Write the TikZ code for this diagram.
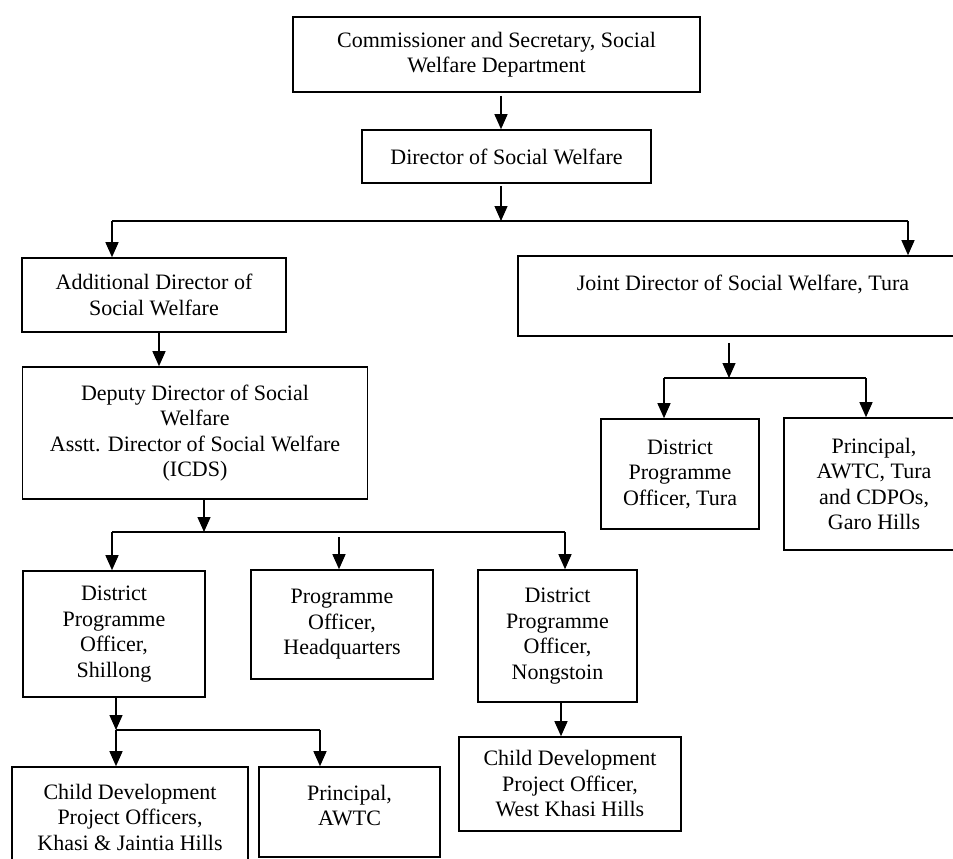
\documentclass[tikz,border=0pt]{standalone}
\usepackage{fontspec}
\setmainfont{Liberation Serif}
\usetikzlibrary{arrows.meta}

\begin{document}
\begin{tikzpicture}[x=1pt, y=-1pt,
	box/.style={draw=black, line width=1.6pt, fill=white, align=center, inner sep=0pt, font=\fontsize{22}{25.5}\selectfont},
	arr/.style={line width=1.3pt, -{Triangle[length=15pt, width=13pt]}},
	bus/.style={line width=1.6pt}]
	\clip (0, 0) rectangle (953, 859);

	\node [box, minimum width=407, minimum height=75] (comm) at (496.5, 54.5) {Commissioner and Secretary, Social\\Welfare Department};
	\node [box, minimum width=289, minimum height=53] (dir) at (506.5, 156.5) {Director of Social Welfare};

	\node [box, minimum width=264, minimum height=74] (add) at (154, 295) {Additional Director of\\Social Welfare};
	\node [box, minimum width=450, minimum height=80] (joint) at (743, 296) {Joint Director of Social Welfare, Tura\\~};

	\node [box, minimum width=345, minimum height=132] (dep) at (195, 433) {Deputy Director of Social\\Welfare\\Asstt. Director of Social Welfare\\(ICDS)};

	\node [box, minimum width=158, minimum height=110] (dpoT) at (680, 474) {District\\Programme\\Officer, Tura};
	\node [box, minimum width=180, minimum height=132] (prinT) at (874, 484) {Principal,\\AWTC, Tura\\and CDPOs,\\Garo Hills};

	\node [box, minimum width=182, minimum height=126] (dpoS) at (114, 634) {District\\Programme\\Officer,\\Shillong};
	\node [box, minimum width=182, minimum height=109] (poHQ) at (342, 624.5) {Programme\\Officer,\\Headquarters};
	\node [box, minimum width=159, minimum height=132] (dpoN) at (557.5, 636) {District\\Programme\\Officer,\\Nongstoin};

	\node [box, minimum width=236, minimum height=100] (cdpoKJ) at (130, 817) {Child Development\\Project Officers,\\Khasi \& Jaintia Hills};
	\node [box, minimum width=181, minimum height=90] (prinA) at (349.5, 812) {Principal,\\AWTC\\[-12pt]~};
	\node [box, minimum width=222, minimum height=94] (cdpoW) at (570, 784) {Child Development\\Project Officer,\\West Khasi Hills};

	\coordinate (c1) at (501, 0);
	\coordinate (b1) at (501, 221);
	\coordinate (b1l) at (112, 221);
	\coordinate (b1r) at (908, 221);
	\coordinate (c2) at (159, 0);
	\coordinate (b2) at (204, 532);
	\coordinate (b2l) at (112, 532);
	\coordinate (b2m) at (339, 537);
	\coordinate (b2r) at (565, 532);
	\coordinate (b3) at (729, 378);
	\coordinate (b3l) at (664, 378);
	\coordinate (b3r) at (866, 378);
	\coordinate (b4) at (116, 730);
	\coordinate (b4r) at (320, 730);
	\coordinate (c5) at (561, 0);

	\draw [arr, shorten <=3pt] (comm.south -| c1) to (dir.north -| c1);
	\draw [arr, shorten <=2pt] (dir.south -| b1) to (b1);
	\draw [bus] (b1l) to (b1r);
	\draw [arr] (b1l) to (add.north -| b1l);
	\draw [arr] (b1r) to (joint.north -| b1r);

	\draw [arr] (add.south -| c2) to (dep.north -| c2);
	\draw [arr] (dep.south -| b2) to (b2);
	\draw [bus] (b2l) to (b2r);
	\draw [arr] (b2l) to (dpoS.north -| b2l);
	\draw [arr] (b2m) to (poHQ.north -| b2m);
	\draw [arr] (b2r) to (dpoN.north -| b2r);

	\draw [arr, shorten <=6pt] (joint.south -| b3) to (b3);
	\draw [bus] (b3l) to (b3r);
	\draw [arr] (b3l) to (dpoT.north -| b3l);
	\draw [arr] (b3r) to (prinT.north -| b3r);

	\draw [arr] (dpoS.south -| b4) to (b4);
	\draw [bus] (b4) to (b4r);
	\draw [arr] (b4) to (cdpoKJ.north -| b4);
	\draw [arr] (b4r) to (prinA.north -| b4r);

	\draw [arr] (dpoN.south -| c5) to (cdpoW.north -| c5);
\end{tikzpicture}
\end{document}
